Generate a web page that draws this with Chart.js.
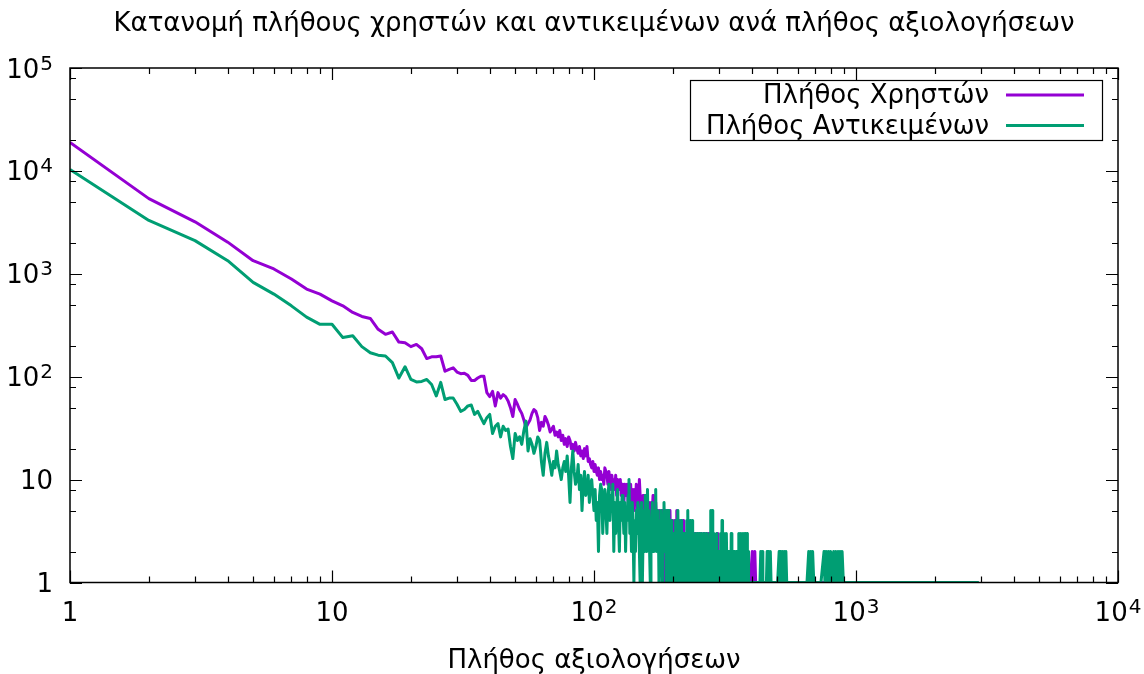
<!DOCTYPE html>
<html>
<head>
<meta charset="utf-8">
<title>Κατανομή πλήθους χρηστών και αντικειμένων</title>
<script src="https://cdn.jsdelivr.net/npm/chart.js@4.4.1/dist/chart.umd.min.js"></script>
<style>
  html, body { margin: 0; padding: 0; background: #fff; }
  canvas { display: block; }
</style>
</head>
<body>
<canvas id="chart" width="1144" height="674"></canvas>
<script>
// Texts
const chartTitle = 'Κατανομή πλήθους χρηστών και αντικειμένων ανά πλήθος αξιολογήσεων';
const xTitle = 'Πλήθος αξιολογήσεων';
const seriesNames = ['Πλήθος Χρηστών', 'Πλήθος Αντικειμένων'];

// Axis decades (exponents of 10) used for tick labels
const xDecades = [0, 1, 2, 3, 4];
const yDecades = [0, 1, 2, 3, 4, 5];
const xMinorSteps = [2, 3, 4, 5, 6, 7, 8, 9];
const yMinorSteps = [2, 5, 8];

// Number of users with exactly n ratings, n = 1 .. 250
const usersByRatings = [
  18900, 5380, 3200, 2030, 1340, 1114, 890, 710, 635, 546,
  488, 421, 385, 368, 289, 258, 272, 217, 214, 196,
  206, 187, 150, 156, 156, 159, 113, 118, 122, 111,
  107, 108, 103, 92, 92, 97, 101, 101, 70, 64,
  72, 52, 70, 62, 67, 64, 58, 50, 41, 60,
  54, 48, 44, 38, 32, 35, 38, 44, 48, 46,
  40, 30, 36, 33, 41, 38, 34, 29, 31, 33,
  27, 29, 26, 30, 24, 27, 22, 25, 21, 26,
  24, 20, 22, 19, 23, 20, 18, 21, 17, 19,
  16, 20, 17, 21, 15, 16, 14, 13, 15, 12,
  14, 12, 11, 13, 10, 12, 10, 11, 9, 13,
  12, 11, 9, 12, 10, 8, 11, 9, 10, 8,
  11, 7, 10, 9, 8, 10, 7, 9, 8, 6,
  9, 8, 7, 9, 6, 8, 7, 9, 6, 8,
  5, 8, 7, 6, 9, 5, 7, 6, 10, 7,
  5, 6, 4, 7, 6, 5, 7, 4, 6, 5,
  3, 6, 5, 4, 6, 3, 5, 7, 4, 5,
  3, 6, 4, 5, 3, 4, 2, 5, 3, 4,
  2, 5, 3, 1, 4, 3, 5, 2, 4, 3,
  1, 4, 2, 3, 5, 2, 3, 1, 4, 2,
  3, 2, 4, 1, 3, 2, 5, 1, 2, 3,
  2, 4, 1, 3, 2, 1, 3, 2, 4, 1,
  2, 3, 1, 2, 3, 1, 2, 3, 2, 1,
  3, 2, 1, 2, 3, 1, 2, 1, 3, 2,
  1, 2, 3, 1, 2, 1, 2, 3, 1, 2
];
// Sparse tail for users: [ratings, users]
const usersTail = [
  [252,1],[253,3],[254,2],[255,1],[256,3],[258,2],[259,1],[260,2],[262,3],[263,1],
  [265,2],[266,1],[268,3],[269,1],[271,2],[272,1],[274,3],[275,1],[277,2],[278,1],
  [280,2],[282,1],[284,3],[285,1],[287,2],[289,1],[291,2],[293,1],[295,3],[297,1],
  [299,2],[301,1],[304,2],[306,1],[309,2],[312,1],[315,2],[318,1],[322,2],[325,1],
  [330,1],[336,2],[340,1],[346,1],[352,2],[356,1],[362,1],[370,1],[378,1],[386,1],
  [395,1],[402,2],[406,1],[411,2],[414,1],[420,1],[440,1],[470,1],[500,1],[550,1],
  [600,1],[680,1],[760,1],[850,1],[960,1],[1080,1],[1211,1]
];

// Number of items with exactly n ratings, n = 1 .. 300
const itemsByRatings = [
  10300, 3300, 2100, 1340, 826, 635, 488, 379, 323, 323,
  240, 250, 196, 171, 162, 159, 137, 97, 125, 94,
  89, 90, 94, 84, 65, 88, 60, 62, 62, 54,
  46, 48, 52, 53, 43, 46, 40, 35, 40, 43,
  28, 33, 35, 26, 33, 30, 31, 21, 16, 28,
  24, 26, 22, 30, 37, 19, 25, 22, 18, 21,
  26, 24, 15, 11, 18, 23, 17, 14, 11, 15,
  13, 19, 14, 12, 10, 13, 15, 12, 17, 11,
  6, 13, 19, 12, 9, 10, 14, 8, 11, 5,
  9, 12, 7, 8, 11, 6, 9, 10, 7, 5,
  8, 4, 6, 2, 7, 9, 8, 3, 6, 8,
  5, 3, 7, 9, 4, 7, 5, 9, 2, 6,
  3, 5, 8, 4, 2, 6, 4, 7, 5, 3,
  6, 2, 5, 4, 7, 10, 3, 5, 2, 6,
  3, 1, 4, 2, 5, 3, 6, 5, 2, 1,
  4, 6, 1, 3, 5, 2, 7, 4, 2, 8,
  3, 5, 2, 1, 4, 3, 6, 2, 5, 3,
  4, 8, 2, 5, 3, 4, 1, 3, 2, 5,
  3, 1, 4, 2, 6, 3, 2, 4, 1, 5,
  2, 3, 5, 1, 3, 2, 4, 1, 3, 2,
  1, 3, 2, 1, 4, 2, 1, 3, 5, 1,
  2, 3, 1, 2, 4, 1, 2, 1, 3, 2,
  1, 3, 1, 2, 1, 4, 2, 5, 1, 3,
  2, 1, 4, 2, 1, 3, 4, 1, 2, 3,
  1, 2, 1, 3, 2, 1, 2, 3, 1, 2,
  1, 3, 2, 1, 2, 1, 3, 2, 1, 2,
  1, 2, 3, 1, 2, 1, 2, 1, 3, 2,
  1, 2, 1, 2, 1, 3, 2, 1, 5, 2,
  1, 3, 5, 1, 2, 1, 3, 2, 1, 2,
  1, 2, 1, 3, 1, 2, 1, 2, 1, 2
];
// Sparse tail for items: [ratings, items]
const itemsTail = [
  [301,1],[302,2],[303,1],[304,3],[305,1],[306,2],[307,1],[308,4],[309,1],[310,2],
  [312,1],[313,3],[314,1],[315,2],[317,1],[318,2],[319,1],[320,3],[322,1],[323,2],
  [324,1],[326,2],[327,1],[329,2],[330,1],[332,2],[333,1],[334,3],[336,1],[337,2],
  [339,1],[340,2],[342,1],[344,2],[345,1],[347,1],[349,2],[350,1],[352,1],[354,2],
  [355,1],[357,3],[358,1],[360,2],[361,1],[363,3],[364,1],[366,2],[368,1],[370,3],
  [371,1],[373,2],[375,1],[377,3],[378,1],[380,2],[382,1],[384,3],[385,1],[388,2],
  [389,1],[392,1],[395,1],[398,1],[402,1],[406,1],[410,1],[415,1],[420,1],[425,1],
  [430,1],[433,2],[436,1],[438,2],[441,1],[445,1],[450,1],[455,1],[458,2],[461,1],
  [465,2],[468,1],[471,2],[474,1],[480,1],[488,1],[495,1],[502,1],[509,2],[512,1],
  [516,2],[520,1],[524,2],[528,1],[533,2],[536,1],[540,2],[544,1],[555,1],[570,1],
  [590,1],[610,1],[630,1],[650,1],[660,2],[666,1],[672,2],[678,1],[683,2],[690,1],
  [710,1],[735,1],[755,2],[761,1],[770,2],[777,1],[785,2],[792,1],[800,2],[810,1],
  [822,2],[830,1],[838,2],[846,1],[855,2],[862,1],[870,2],[878,1],[885,2],[895,1],
  [960,1],[1050,1],[1200,1],[1400,1],[1700,1],[2100,1],[2500,1],[2944,1]
];

const seriesColors = ['#9400D3', '#009E73'];

function toPoints(dense, tail) {
  const pts = dense.map((v, i) => ({ x: i + 1, y: v }));
  tail.forEach(([x, y]) => pts.push({ x, y }));
  return pts;
}

const FONT = '"DejaVu Sans", "Liberation Sans", sans-serif';
const TEXT_PX = 26;
const SUP_PX = 20;

// Draws "1", "10" or "10" with a raised exponent.
function drawPower(ctx, exp, anchorX, baseline, align) {
  const base = exp === 0 ? '1' : '10';
  const sup = exp >= 2 ? String(exp) : '';
  ctx.font = TEXT_PX + 'px ' + FONT;
  const wb = ctx.measureText(base).width;
  ctx.font = SUP_PX + 'px ' + FONT;
  const ws = sup ? ctx.measureText(sup).width + 1 : 0;
  const total = wb + ws;
  const start = align === 'center' ? anchorX - total / 2 : anchorX - total;
  ctx.textAlign = 'left';
  ctx.textBaseline = 'alphabetic';
  ctx.font = TEXT_PX + 'px ' + FONT;
  ctx.fillText(base, start, baseline);
  if (sup) {
    ctx.font = SUP_PX + 'px ' + FONT;
    ctx.fillText(sup, start + wb + 1, baseline - 8);
  }
}

const framePlugin = {
  id: 'frame',
  beforeDraw(chart) {
    const { ctx } = chart;
    ctx.save();
    ctx.fillStyle = '#fff';
    ctx.fillRect(0, 0, chart.width, chart.height);
    ctx.restore();
  },
  afterDatasetsDraw(chart) {
    const { ctx, chartArea: a, scales } = chart;
    const xs = scales.x, ys = scales.y;
    ctx.save();
    ctx.strokeStyle = '#000';
    ctx.fillStyle = '#000';

    // Inward ticks on all four sides
    ctx.lineWidth = 1.2;
    ctx.beginPath();
    xDecades.forEach(k => {
      const major = Math.pow(10, k);
      const px = Math.round(xs.getPixelForValue(major)) + 0.5;
      ctx.moveTo(px, a.bottom); ctx.lineTo(px, a.bottom - 12);
      ctx.moveTo(px, a.top); ctx.lineTo(px, a.top + 12);
      if (k < xDecades[xDecades.length - 1]) {
        xMinorSteps.forEach(m => {
          const p = Math.round(xs.getPixelForValue(m * major)) + 0.5;
          ctx.moveTo(p, a.bottom); ctx.lineTo(p, a.bottom - 6);
          ctx.moveTo(p, a.top); ctx.lineTo(p, a.top + 6);
        });
      }
    });
    yDecades.forEach(k => {
      const major = Math.pow(10, k);
      const py = Math.round(ys.getPixelForValue(major)) + 0.5;
      ctx.moveTo(a.left, py); ctx.lineTo(a.left + 12, py);
      ctx.moveTo(a.right, py); ctx.lineTo(a.right - 12, py);
      if (k < yDecades[yDecades.length - 1]) {
        yMinorSteps.forEach(m => {
          const p = Math.round(ys.getPixelForValue(m * major)) + 0.5;
          ctx.moveTo(a.left, p); ctx.lineTo(a.left + 6, p);
          ctx.moveTo(a.right, p); ctx.lineTo(a.right - 6, p);
        });
      }
    });
    ctx.stroke();

    // Border box
    ctx.lineWidth = 1.5;
    ctx.strokeRect(a.left, a.top, a.right - a.left, a.bottom - a.top);

    // Tick labels
    xDecades.forEach(k => {
      drawPower(ctx, k, xs.getPixelForValue(Math.pow(10, k)), 621, 'center');
    });
    yDecades.forEach(k => {
      drawPower(ctx, k, 53, ys.getPixelForValue(Math.pow(10, k)) + 9.5, 'right');
    });

    // Titles
    ctx.textAlign = 'center';
    ctx.textBaseline = 'alphabetic';
    ctx.font = TEXT_PX + 'px ' + FONT;
    ctx.fillText(chartTitle, (a.left + a.right) / 2, 31);
    ctx.fillText(xTitle, (a.left + a.right) / 2, 668);

    // Key box
    const box = { left: 690.5, top: 80.5, right: 1102.5, bottom: 140.5 };
    ctx.fillStyle = '#fff';
    ctx.fillRect(box.left, box.top, box.right - box.left, box.bottom - box.top);
    ctx.lineWidth = 1.2;
    ctx.strokeStyle = '#000';
    ctx.strokeRect(box.left, box.top, box.right - box.left, box.bottom - box.top);
    ctx.font = TEXT_PX + 'px ' + FONT;
    ctx.textAlign = 'right';
    chart.data.datasets.forEach((ds, i) => {
      const cy = 95 + i * 30.5;
      ctx.fillStyle = '#000';
      ctx.fillText(ds.label, 989, cy + 8);
      ctx.strokeStyle = ds.borderColor;
      ctx.lineWidth = 3;
      ctx.beginPath();
      ctx.moveTo(1006, cy);
      ctx.lineTo(1084, cy);
      ctx.stroke();
    });
    ctx.restore();
  }
};

new Chart(document.getElementById('chart'), {
  type: 'line',
  data: {
    datasets: [
      {
        label: seriesNames[0],
        data: toPoints(usersByRatings, usersTail),
        borderColor: seriesColors[0],
        order: 1
      },
      {
        label: seriesNames[1],
        data: toPoints(itemsByRatings, itemsTail),
        borderColor: seriesColors[1],
        order: 0
      }
    ]
  },
  options: {
    responsive: false,
    animation: false,
    devicePixelRatio: 1,
    layout: { padding: { left: 70, right: 26, top: 68, bottom: 91.5 } },
    elements: {
      point: { radius: 0, hoverRadius: 0 },
      line: { borderWidth: 3, tension: 0, borderJoinStyle: 'round', borderCapStyle: 'butt', fill: false }
    },
    scales: {
      x: { type: 'logarithmic', min: 1, max: 10000, display: false },
      y: { type: 'logarithmic', min: 1, max: 100000, display: false }
    },
    plugins: {
      legend: { display: false },
      title: { display: false },
      tooltip: { enabled: false }
    },
    events: []
  },
  plugins: [framePlugin]
});
</script>
</body>
</html>
